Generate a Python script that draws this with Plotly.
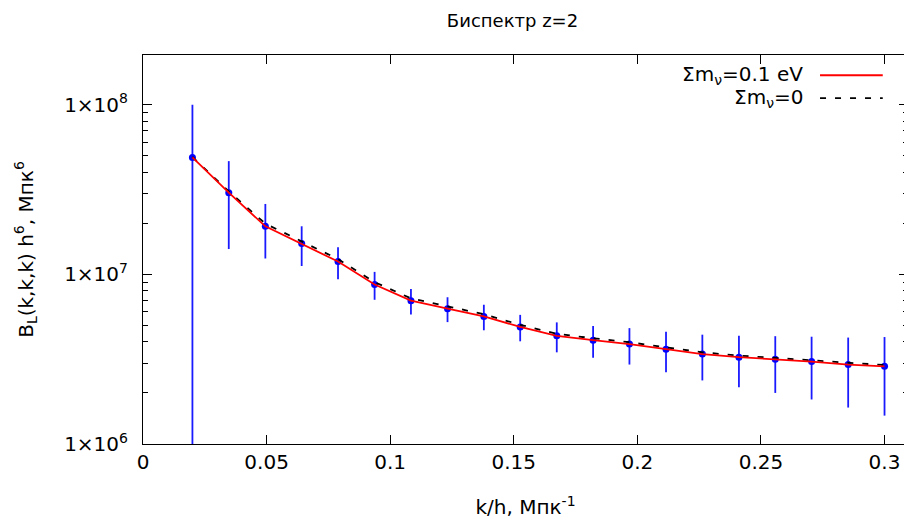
import plotly.graph_objects as go

FONT_FAMILY = "DejaVu Sans, sans-serif"

# k/h, Mpc^-1
k_vals = [0.0200, 0.0347, 0.0495, 0.0642, 0.0789, 0.0937, 0.1084, 0.1232, 0.1379, 0.1526,
          0.1674, 0.1821, 0.1968, 0.2116, 0.2263, 0.2411, 0.2558, 0.2705, 0.2853, 0.3000]

# B_L(k,k,k) h^6 for sum m_nu = 0.1 eV
b_massive = [4.89e7, 3.03e7, 1.92e7, 1.52e7, 1.19e7, 8.71e6, 7.00e6, 6.28e6, 5.65e6, 4.90e6,
             4.34e6, 4.09e6, 3.88e6, 3.62e6, 3.39e6, 3.25e6, 3.16e6, 3.06e6, 2.94e6, 2.87e6]

# error bars (symmetric)
b_err = [5.10e7, 1.62e7, 6.80e6, 4.00e6, 2.55e6, 1.63e6, 1.20e6, 1.05e6, 0.97e6, 0.87e6,
         0.87e6, 0.87e6, 0.94e6, 0.97e6, 1.02e6, 1.09e6, 1.16e6, 1.23e6, 1.30e6, 1.40e6]

# sum m_nu = 0
b_massless = [4.92e7, 3.08e7, 1.99e7, 1.57e7, 1.23e7, 9.00e6, 7.22e6, 6.48e6, 5.82e6, 5.04e6,
              4.46e6, 4.20e6, 3.98e6, 3.71e6, 3.47e6, 3.32e6, 3.22e6, 3.12e6, 3.00e6, 2.92e6]

x_ticks = [0, 0.05, 0.1, 0.15, 0.2, 0.25, 0.3]
x_ticktext = ["0", "0.05", "0.1", "0.15", "0.2", "0.25", "0.3"]
y_ticks = [1e6, 1e7, 1e8]
y_ticktext = ["1×10<sup>6</sup>", "1×10<sup>7</sup>", "1×10<sup>8</sup>"]
y_minor = [m * 10 ** e for e in (6, 7) for m in range(2, 10)] + [2e8]

RED_LINE = {"color": "#ff0000", "width": 1.8}
DASH_LINE = {"color": "black", "width": 1.8, "dash": "6px,9px"}

fig = go.Figure()
fig.add_trace(
    go.Scatter(
        x=k_vals, y=b_massive, mode="markers",
        marker={"color": "#0000ff", "size": 7},
        error_y={"type": "data", "array": b_err, "visible": True,
                 "color": "#1a1aff", "thickness": 1.8, "width": 0},
        showlegend=False,
    )
)
fig.add_trace(
    go.Scatter(x=k_vals, y=b_massless, mode="lines", name="Σm<sub>ν</sub>=0",
               line=DASH_LINE, showlegend=False)
)
fig.add_trace(
    go.Scatter(x=k_vals, y=b_massive, mode="lines", name="Σm<sub>ν</sub>=0.1 eV",
               line=RED_LINE, showlegend=False)
)

# gnuplot-style key: text right-aligned, sample line on the right
legend_items = [
    ("Σm<sub>ν</sub>=0.1 eV", RED_LINE, 0.948),
    ("Σm<sub>ν</sub>=0", DASH_LINE, 0.889),
]
for text, line, yy in legend_items:
    fig.add_annotation(
        text=text, xref="paper", yref="paper", x=0.8655, y=yy,
        xanchor="right", yanchor="middle", showarrow=False,
        font={"size": 20, "family": FONT_FAMILY, "color": "black"},
    )
    fig.add_shape(type="line", xref="paper", yref="paper",
                  x0=0.885, x1=0.967, y0=yy, y1=yy, line=line)

# page body has an 8px margin, so the figure is a bit smaller than the window
fig.update_layout(
    width=904,
    height=511,
    title={"text": "Биспектр z=2", "x": 0.483, "xref": "paper", "y": 0.976,
           "xanchor": "center", "yanchor": "middle",
           "font": {"size": 18, "family": FONT_FAMILY, "color": "black"}},
    margin={"t": 47, "b": 73, "l": 135, "r": 3},
    plot_bgcolor="white",
    paper_bgcolor="white",
    font={"family": FONT_FAMILY, "color": "black"},
)
fig.update_xaxes(
    range=[0, 0.3095],
    tickvals=x_ticks, ticktext=x_ticktext,
    ticks="inside", ticklen=9, tickwidth=1, tickcolor="black",
    showline=True, linecolor="black", linewidth=1, mirror="allticks",
    showgrid=False, zeroline=False,
    tickfont={"size": 20},
    title={"text": "k/h, Мпк<sup>-1</sup>", "font": {"size": 20}, "standoff": 28},
)
fig.update_yaxes(
    type="log", range=[6, 8.293],
    tickvals=y_ticks, ticktext=y_ticktext,
    ticks="inside", ticklen=9, tickwidth=1, tickcolor="black",
    ticklabelstandoff=10,
    minor={"tickmode": "array", "tickvals": y_minor, "ticks": "inside",
           "ticklen": 5, "tickcolor": "black", "showgrid": False},
    showline=True, linecolor="black", linewidth=1, mirror="allticks",
    showgrid=False, zeroline=False,
    tickfont={"size": 20},
    title={"text": "B<sub>L</sub>(k,k,k) h<sup>6</sup>, Мпк<sup>6</sup>",
           "font": {"size": 20}, "standoff": 25},
)

fig.write_html("out.html")
